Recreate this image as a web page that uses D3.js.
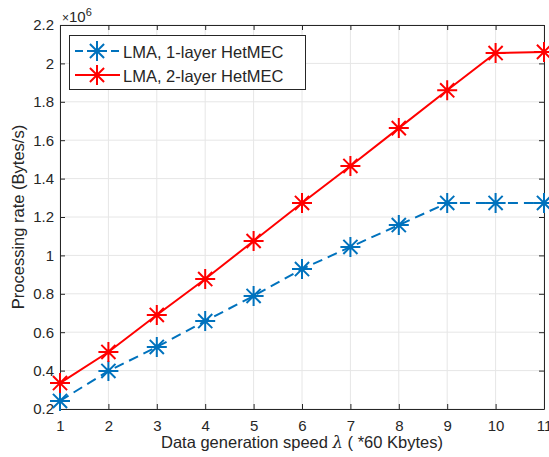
<!DOCTYPE html>
<html>
<head>
<meta charset="utf-8">
<script src="https://cdn.jsdelivr.net/npm/d3@7"></script>
<style>
  body { margin: 0; background: #fff; }
  text { font-family: "Liberation Sans", Arial, sans-serif; fill: #262626; }
</style>
</head>
<body>
<svg width="549" height="457"></svg>
<script>
  var xValues = [1, 2, 3, 4, 5, 6, 7, 8, 9, 10, 11];
  var oneLayer = [0.242, 0.398, 0.523, 0.658, 0.789, 0.929, 1.044, 1.158, 1.273, 1.273, 1.273];
  var twoLayer = [0.335, 0.497, 0.690, 0.877, 1.075, 1.273, 1.466, 1.663, 1.860, 2.054, 2.060];
  var yTicks = [0.2, 0.4, 0.6, 0.8, 1, 1.2, 1.4, 1.6, 1.8, 2, 2.2];
  var seriesNames = ["LMA, 1-layer HetMEC", "LMA, 2-layer HetMEC"];

  var pLeft = 60, pRight = 544, pTop = 25, pBottom = 409;

  var svg = d3.select("svg");
  var x = d3.scaleLinear().domain([1, 11]).range([pLeft, pRight]);
  var y = d3.scaleLinear().domain([0.2, 2.2]).range([pBottom, pTop]);

  // grid
  svg.append("g").selectAll("line").data(xValues).enter()
    .append("line")
    .attr("x1", function (d) { return x(d); }).attr("x2", function (d) { return x(d); })
    .attr("y1", pTop).attr("y2", pBottom)
    .attr("stroke", "#e6e6e6").attr("stroke-width", 1);
  svg.append("g").selectAll("line").data(yTicks).enter()
    .append("line")
    .attr("y1", function (d) { return y(d); }).attr("y2", function (d) { return y(d); })
    .attr("x1", pLeft).attr("x2", pRight)
    .attr("stroke", "#e6e6e6").attr("stroke-width", 1);

  // axes, ticks pointing inward
  var fmt = function (d) { return d3.format("~g")(d); };
  svg.append("g").attr("transform", "translate(0," + pBottom + ")")
    .call(d3.axisBottom(x).tickValues(xValues).tickSizeInner(-5).tickSizeOuter(0).tickPadding(11).tickFormat(fmt));
  svg.append("g").attr("transform", "translate(0," + pTop + ")")
    .call(d3.axisTop(x).tickValues(xValues).tickSizeInner(-5).tickSizeOuter(0).tickFormat(""));
  svg.append("g").attr("transform", "translate(" + pLeft + ",0)")
    .call(d3.axisLeft(y).tickValues(yTicks).tickSizeInner(-5).tickSizeOuter(0).tickPadding(6).tickFormat(fmt));
  svg.append("g").attr("transform", "translate(" + pRight + ",0)")
    .call(d3.axisRight(y).tickValues(yTicks).tickSizeInner(-5).tickSizeOuter(0).tickFormat(""));

  svg.selectAll(".domain").attr("stroke", "#262626").attr("stroke-width", 1);
  svg.selectAll(".tick line").attr("stroke", "#262626");
  svg.selectAll(".tick text").style("font-size", "15px").style("font-family", "'Liberation Sans', Arial, sans-serif").attr("fill", "#262626");

  // exponent
  var ex = svg.append("text").attr("x", pLeft + 2).attr("y", 22).style("font-size", "15px");
  ex.append("tspan").style("font-size", "12px").text("\u00d7");
  ex.append("tspan").text("10");
  ex.append("tspan").attr("dy", -6).style("font-size", "11px").text("6");

  // axis labels
  svg.append("text").attr("x", (pLeft + pRight) / 2).attr("y", 448)
    .attr("text-anchor", "middle").style("font-size", "16.5px")
    .html("Data generation speed <tspan font-style='italic' font-family='DejaVu Serif'>\u03bb</tspan> ( *60 Kbytes)");
  svg.append("text").attr("transform", "translate(24," + ((pTop + pBottom) / 2) + ") rotate(-90)")
    .attr("text-anchor", "middle").style("font-size", "16.5px")
    .text("Processing rate (Bytes/s)");

  function star(g, cx, cy, r, color) {
    var d = r * 0.7071;
    var p = "M" + (cx - r) + "," + cy + "H" + (cx + r) +
      "M" + cx + "," + (cy - r) + "V" + (cy + r) +
      "M" + (cx - d) + "," + (cy - d) + "L" + (cx + d) + "," + (cy + d) +
      "M" + (cx - d) + "," + (cy + d) + "L" + (cx + d) + "," + (cy - d);
    g.append("path").attr("d", p).attr("stroke", color).attr("stroke-width", 2).attr("fill", "none");
  }

  var series = [
    { name: seriesNames[0], values: oneLayer, color: "#0072BD", dash: "10,6" },
    { name: seriesNames[1], values: twoLayer, color: "#FF0000", dash: null }
  ];

  var line = d3.line()
    .x(function (d, i) { return x(xValues[i]); })
    .y(function (d) { return y(d); });

  series.forEach(function (s) {
    var g = svg.append("g");
    g.append("path").attr("d", line(s.values))
      .attr("fill", "none").attr("stroke", s.color).attr("stroke-width", 2)
      .attr("stroke-dasharray", s.dash);
    s.values.forEach(function (v, i) { star(g, x(xValues[i]), y(v), 10, s.color); });
  });

  // legend
  var lg = svg.append("g");
  lg.append("rect").attr("x", 69.5).attr("y", 35.5).attr("width", 236).attr("height", 54)
    .attr("fill", "#fff").attr("stroke", "#262626").attr("stroke-width", 1);
  series.forEach(function (s, i) {
    var ly = 51 + i * 24;
    lg.append("line").attr("x1", 75).attr("x2", 120).attr("y1", ly).attr("y2", ly)
      .attr("stroke", s.color).attr("stroke-width", 2).attr("stroke-dasharray", s.dash ? "8,4" : null);
    star(lg, 97, ly, 10, s.color);
    lg.append("text").attr("x", 123).attr("y", ly + 7).style("font-size", "16.5px").attr("fill", "#000").text(s.name);
  });
</script>
</body>
</html>
